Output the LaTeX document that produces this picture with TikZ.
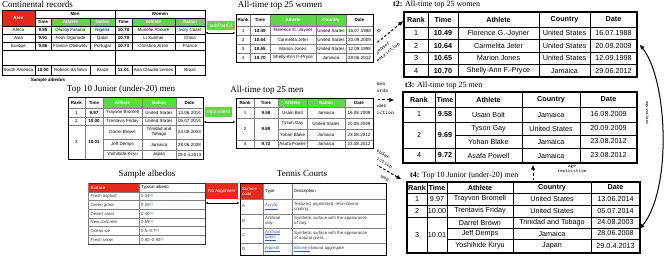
\documentclass[tikz,border=0pt]{standalone}
\usepackage{fontspec}
\setmainfont{Liberation Serif}
\setsansfont{Liberation Sans}
\usetikzlibrary{arrows.meta}
\definecolor{hred}{HTML}{E5291B}
\definecolor{hgreen}{HTML}{5DD846}
\definecolor{lnk}{HTML}{2F5FB3}
\definecolor{gl}{HTML}{808080}
\definecolor{dk}{HTML}{333333}
\newcommand\rwf[6]{%
 \node[cur] at (\ca,#1) {#2};
 \node[curb] at (\cb,#1) {#3};
 \node[cur] at (\cc,#1) {#4};
 \node[cur] at (\cd,#1) {#5};
 \node[cur] at (\ce,#1) {#6};}
\newcommand\rwt[4]{%
 \node[cur] at (\cc,#1) {#2};
 \node[cur] at (\cd,#1) {#3};
 \node[cur] at (\ce,#1) {#4};}
\newcommand\crow[8]{%
 \node[st] at (18.5,#1) {#2};
 \node[stb] at (43,#1) {#3};
 \node[st] at (70.5,#1) {#4};
 \node[st] at (102.5,#1) {#5};
 \node[stb] at (123.5,#1) {#6};
 \node[st] at (153.5,#1) {#7};
 \node[st] at (190,#1) {#8};}
\begin{document}
\begin{tikzpicture}[x=1pt,y=-1pt,
  ttl/.style={font=\fontsize{9}{10}\selectfont\rmfamily, inner sep=0},
  rttl/.style={font=\fontsize{8}{9}\selectfont\rmfamily, inner sep=0, anchor=west},
  st/.style={font=\fontsize{4.5}{5}\selectfont\sffamily, inner sep=0, align=center},
  stb/.style={font=\fontsize{4.5}{5}\selectfont\sffamily\bfseries, inner sep=0},
  ss/.style={font=\fontsize{4.3}{5}\selectfont\sffamily, inner sep=0, anchor=west, align=left, text=dk},
  rtx/.style={font=\fontsize{7.2}{8}\selectfont\sffamily, inner sep=0},
  rtb/.style={font=\fontsize{7.2}{8}\selectfont\sffamily\bfseries, inner sep=0},
  lbl/.style={font=\fontsize{5.5}{7}\selectfont\ttfamily, inner sep=0, align=center},
  tagbox/.style={inner sep=0, text=white, font=\fontsize{5}{6}\selectfont\sffamily},
  dbl/.style={{Latex[length=2.5pt,width=2pt]}-{Latex[length=2.5pt,width=2pt]}, line width=.5pt},
  dsh/.style={-{Latex[length=5pt,width=4.5pt]}, line width=1pt, dash pattern=on 2.5pt off 2pt},
  frm/.style={draw, inner sep=0},
  cur/.style={st}, curb/.style={stb}]
\useasboundingbox[fill=white] (0,0) rectangle (664,256);

% ---------- labels of the dashed arrows from the hidden source (clipped by the left panel)
\begin{scope}
\clip (377,0) rectangle (664,256);
\coordinate (A1) at (360,56.6);
\coordinate (A2) at (355,100);
\coordinate (A3) at (360,155.2);
\node[lbl, rotate=39] (w1) at (370.5,33) {women\\records};
\node[lbl, rotate=39] (g1) at (384.5,50.5) {gender\\restriction};
\node[lbl] (w2) at (378,87.5) {women\\records};
\node[lbl] (g2) at (378,109) {gender\\restriction};
\node[lbl, rotate=-30.6] (g3) at (380.2,156.2) {gender\\restriction};
\node[lbl, rotate=-30.6] (m3) at (384.8,178.5) {men};
\end{scope}

% ---------- Table 1: Continental records
\node[ttl, anchor=west] (ttlA) at (2,4.5) {Continental records};
\fill[hred] (2,10) rectangle (35,26);
\fill[hgreen] (51,18) rectangle (115,26);
\fill[hgreen] (132,18) rectangle (205,26);
\draw[line width=.4pt] (35,18) -- (205,18);
\foreach \yy in {26,34,42,50,65} \draw[line width=.4pt] (2,\yy) -- (205,\yy);
\foreach \xx in {51,90,132,175} \draw[line width=.4pt] (\xx,18) -- (\xx,50) (\xx,65) -- (\xx,75);
\draw[line width=.9pt] (35,10) -- (35,50) (35,65) -- (35,75) (115,10) -- (115,75);
\node[frm, line width=.5pt, minimum width=203pt, minimum height=65pt] (T1) at (103.5,42.5) {};
\node[stb, text=white] at (18.5,18) {Area};
\node[stb] at (75,14) {Men};
\node[stb] at (160,14) {Women};
\node[stb] at (43,22) {Time};
\node[stb, text=white] at (70.5,22) {Athlete};
\node[stb, text=white] at (102.5,22) {Nation};
\node[stb] at (123.5,22) {Time};
\node[stb, text=white] at (153.5,22) {Athlete};
\node[stb, text=white] at (190,22) {Nation};
\crow{30}{Africa}{9.85}{Olusoji Fasuba}{Nigeria}{10.78}{Murielle Ahouré}{Ivory Coast}
\crow{38}{Asia}{9.91}{Femi Ogunode}{Qatar}{10.79}{Li Xuemei}{China}
\crow{46}{Europe}{9.86}{Francis Obikwelu}{Portugal}{10.73}{Christine Arron}{France}
\crow{70}{South America}{10.00}{Robson da Silva}{Brazil}{11.01}{Ana Cláudia Lemos}{Brazil}
\node[stb] (sa) at (48,80) {Sample albedos};

% ---------- Table 2: All-time top 25 women (left)
\node[ttl] (ttlB) at (280,5) {All-time top 25 women};
\fill[hgreen] (270,14) rectangle (346,26);
\foreach \yy in {26,35,44,53} \draw[gl, line width=.4pt] (236,\yy) -- (373,\yy);
\foreach \xx in {250,270,316,346} \draw[gl, line width=.4pt] (\xx,14) -- (\xx,62);
\node[frm, line width=.9pt, minimum width=137pt, minimum height=48pt] (T2) at (304.5,38) {};
\def\ca{243}\def\cb{260}\def\cc{293}\def\cd{331}\def\ce{359.5}
\node[stb] at (\ca,20) {Rank};
\node[stb] at (\cb,20) {Time};
\node[stb, text=white] at (\cc,20) {Athlete};
\node[stb, text=white] at (\cd,20) {Country};
\node[stb] at (\ce,20) {Date};
\rwf{30.5}{1}{10.49}{Florence G.-Joyner}{United States}{16.07.1988}
\rwf{39.5}{2}{10.64}{Carmelita Jeter}{United States}{20.09.2009}
\rwf{48.5}{3}{10.65}{Marion Jones}{United States}{12.09.1998}
\rwf{57.5}{4}{10.70}{Shelly-Ann F.-Pryce}{Jamaica}{29.06.2012}

\node[tagbox, fill=hgreen, minimum width=28pt, minimum height=9pt] (L1) at (221,25.5) {subPartOf};
\draw[dbl] ([yshift=9.5pt]T1.east) -- ([yshift=5pt]T2.west);

% ---------- Table 3: Top 10 Junior (under-20) men (left)
\node[ttl] (ttlC) at (121,89) {Top 10 Junior (under-20) men};
\fill[hgreen] (103,97) rectangle (176,108);
\foreach \yy in {108,117.5,125} \draw[gl, line width=.4pt] (68,\yy) -- (203,\yy);
\foreach \yy in {139,150} \draw[gl, line width=.4pt] (103,\yy) -- (203,\yy);
\foreach \xx in {85,103,142,176} \draw[gl, line width=.4pt] (\xx,97) -- (\xx,159);
\node[frm, line width=.9pt, minimum width=135pt, minimum height=62pt] (T3) at (135.5,128) {};
\def\ca{76.5}\def\cb{94}\def\cc{122.5}\def\cd{159}\def\ce{189.5}
\node[stb] at (\ca,102.5) {Rank};
\node[stb] at (\cb,102.5) {Time};
\node[stb, text=white] at (\cc,102.5) {Athlete};
\node[stb, text=white] at (\cd,102.5) {Nation};
\node[stb] at (\ce,102.5) {Date};
\rwf{112.75}{1}{9.97}{Trayvon Bromell}{United States}{13.06.2014}
\rwf{121.25}{2}{10.00}{Trentavis Friday}{United States}{05.07.2014}
\node[st] at (\ca,142) {3};
\node[stb] at (\cb,142) {10.01};
\rwt{132}{Darrel Brown}{Trinidad and\\Tobago}{24.08.2003}
\rwt{144.5}{Jeff Demps}{Jamaica}{28.06.2008}
\rwt{154.5}{Yoshihide Kiryu}{Japan}{29.0.4.2013}

% ---------- Table 4: All-time top 25 men (left)
\node[ttl] (ttlD) at (267,90) {All-time top 25 men};
\fill[hgreen] (278,98) rectangle (345,107);
\foreach \yy in {107,118,140} \draw[gl, line width=.4pt] (236,\yy) -- (373,\yy);
\draw[gl, line width=.4pt] (278,129) -- (373,129);
\foreach \xx in {254,278,307,345} \draw[gl, line width=.4pt] (\xx,98) -- (\xx,148);
\node[frm, line width=.9pt, minimum width=137pt, minimum height=50pt] (T4) at (304.5,123) {};
\def\ca{245}\def\cb{266}\def\cc{292.5}\def\cd{326}\def\ce{359}
\node[stb] at (\ca,102.5) {Rank};
\node[stb] at (\cb,102.5) {Time};
\node[stb, text=white] at (\cc,102.5) {Athlete};
\node[stb, text=white] at (\cd,102.5) {Nation};
\node[stb] at (\ce,102.5) {Date};
\rwf{112.5}{1}{9.58}{Usain Bolt}{Jamaica}{16.08.2009}
\node[st] at (\ca,129) {2};
\node[stb] at (\cb,129) {9.69};
\rwt{123.5}{Tyson Gay}{United States}{20.09.2009}
\rwt{134.5}{Yohan Blake}{Jamaica}{23.08.2012}
\rwf{144}{4}{9.72}{Asafa Powell}{Jamaica}{23.08.2012}

\node[tagbox, fill=hgreen, minimum width=27pt, minimum height=10pt] (L2) at (218.5,112) {equivalent};
\draw[dbl] ([yshift=6pt]T3.east) -- ([yshift=1pt]T4.west);

% ---------- Table 5: Sample albedos
\node[ttl] (ttlE) at (147,174) {Sample albedos};
\fill[hred] (88,183) rectangle (139,192);
\foreach \yy in {192,200.67,209.33,218,226.67,235.33} \draw[gl, line width=.4pt] (88,\yy) -- (205,\yy);
\draw[gl, line width=.4pt] (139,183) -- (139,244);
\node[frm, draw=dk, line width=.6pt, minimum width=117pt, minimum height=61pt] (T5) at (146.5,213.5) {};
\draw[gl, line width=1.2pt] (88.6,183) -- (88.6,244);
\node[ss, text=white] at (90.5,187.5) {Surface};
\node[ss, text=black] at (141,187.5) {Typical albedo};
\node[ss] at (90.5,196.3) {Fresh asphalt};
\node[ss] at (141,196.3) {0.04\raisebox{1.2pt}{\fontsize{3}{3}\selectfont\color{lnk}[4]}};
\node[ss] at (90.5,205) {Green grass};
\node[ss] at (141,205) {0.25\raisebox{1.2pt}{\fontsize{3}{3}\selectfont\color{lnk}[5]}};
\node[ss] at (90.5,213.7) {Desert sand};
\node[ss] at (141,213.7) {0.40\raisebox{1.2pt}{\fontsize{3}{3}\selectfont\color{lnk}[6]}};
\node[ss] at (90.5,222.3) {New concrete};
\node[ss] at (141,222.3) {0.55\raisebox{1.2pt}{\fontsize{3}{3}\selectfont\color{lnk}[5]}};
\node[ss] at (90.5,231) {Ocean ice};
\node[ss] at (141,231) {0.5–0.7\raisebox{1.2pt}{\fontsize{3}{3}\selectfont\color{lnk}[5]}};
\node[ss] at (90.5,239.7) {Fresh snow};
\node[ss] at (141,239.7) {0.80–0.90\raisebox{1.2pt}{\fontsize{3}{3}\selectfont\color{lnk}[5]}};

% ---------- Table 6: Tennis Courts
\node[ttl] (ttlF) at (302,174) {Tennis Courts};
\fill[hred] (240,183) rectangle (263,199);
\foreach \yy in {199,214,228,243} \draw[gl, line width=.4pt] (240,\yy) -- (386,\yy);
\foreach \xx in {263,292} \draw[gl, line width=.4pt] (\xx,183) -- (\xx,255);
\node[frm, line width=.6pt, minimum width=146pt, minimum height=72pt] (T6) at (313,219) {};
\node[ss, text=white] at (242,191) {Surface\\code};
\node[ss, text=black] at (265,191) {Type};
\node[ss, text=black] at (294,191) {Description};
\node[ss] at (242,206.5) {A};
\node[ss] at (265,206.5) {{\color{lnk}\underline{Acrylic}}};
\node[ss] at (294,206.5) {Textured, pigmented, resin-bound\\coating};
\node[ss] at (242,221) {B};
\node[ss] at (265,221) {Artificial\\clay};
\node[ss] at (294,221) {Synthetic surface with the appearance\\of clay};
\node[ss] at (242,235.5) {C};
\node[ss] at (265,235.5) {{\color{lnk}\underline{Artificial}}\\{\color{lnk}\underline{grass}}};
\node[ss] at (294,235.5) {Synthetic surface with the appearance\\of natural grass};
\node[ss] at (242,249) {D};
\node[ss] at (265,249) {{\color{lnk}\underline{Asphalt}}};
\node[ss] at (294,249) {{\color{lnk}\underline{Bitumen}}-bound aggregate};

\node[tagbox, fill=hred, font=\fontsize{4.5}{5}\selectfont\sffamily, minimum width=32pt, minimum height=16pt] (L3) at (222,191) {No Alignment};
\draw[dbl] ([yshift=10.5pt]T5.east) -- ([yshift=16pt]T6.west);

% ---------- Right: t2
\tikzset{cur/.style={rtx}, curb/.style={rtb}}
\node[rttl] (ttl2) at (393,5) {\textbf{t2:} All-time top 25 women};
\foreach \yy in {27,39.5,52,64.5} \draw[line width=.6pt] (404,\yy) -- (637,\yy);
\foreach \xx in {428,458,539,590} \draw[line width=.6pt] (\xx,12) -- (\xx,77);
\node[frm, line width=1.3pt, minimum width=233pt, minimum height=65pt] (R2) at (520.5,44.5) {};
\def\ca{416}\def\cb{443}\def\cc{498.5}\def\cd{564.5}\def\ce{613.5}
\node[rtb] at (\ca,19.5) {Rank};
\node[rtb] at (\cb,19.5) {Time};
\node[rtb] at (\cc,19.5) {Athlete};
\node[rtb] at (\cd,19.5) {Country};
\node[rtb] at (\ce,19.5) {Date};
\rwf{33.25}{1}{10.49}{Florence G.-Joyner}{United States}{16.07.1988}
\rwf{45.75}{2}{10.64}{Carmelita Jeter}{United States}{20.09.2009}
\rwf{58.25}{3}{10.65}{Marion Jones}{United States}{12.09.1998}
\rwf{70.75}{4}{10.70}{Shelly-Ann F.-Pryce}{Jamaica}{29.06.2012}

% ---------- Right: t3
\node[rttl] (ttl3) at (405,86) {\textbf{t3:} All-time top 25 men};
\foreach \yy in {107,122,148} \draw[line width=.6pt] (403,\yy) -- (637,\yy);
\draw[line width=.6pt] (455,135) -- (637,135);
\foreach \xx in {435,455,522,580} \draw[line width=.6pt] (\xx,92) -- (\xx,163);
\node[frm, line width=1.3pt, minimum width=234pt, minimum height=71pt] (R3) at (520,127.5) {};
\def\ca{419}\def\cb{445}\def\cc{488.5}\def\cd{551}\def\ce{608.5}
\node[rtb] at (\ca,99.5) {Rank};
\node[rtb] at (\cb,99.5) {Time};
\node[rtb] at (\cc,99.5) {Athlete};
\node[rtb] at (\cd,99.5) {Country};
\node[rtb] at (\ce,99.5) {Date};
\rwf{114.5}{1}{9.58}{Usain Bolt}{Jamaica}{16.08.2009}
\node[rtx] at (\ca,135) {2};
\node[rtb] at (\cb,135) {9.69};
\rwt{128.5}{Tyson Gay}{United States}{20.09.2009}
\rwt{141.5}{Yohan Blake}{Jamaica}{23.08.2012}
\rwf{155.5}{4}{9.72}{Asafa Powell}{Jamaica}{23.08.2012}

% ---------- Right: t4
\tikzset{curb/.style={rtx}}
\node[rttl] (ttl4) at (410,176) {\textbf{t4:} Top 10 Junior (under-20) men};
\foreach \yy in {193,205,217} \draw[line width=.6pt] (407,\yy) -- (640,\yy);
\foreach \yy in {228,239} \draw[line width=.6pt] (447,\yy) -- (640,\yy);
\foreach \xx in {427,447,513,591} \draw[line width=.6pt] (\xx,182) -- (\xx,253);
\node[frm, line width=1.3pt, minimum width=233pt, minimum height=71pt] (R4) at (523.5,217.5) {};
\def\ca{417}\def\cb{437}\def\cc{480}\def\cd{552}\def\ce{615.5}
\node[rtb] at (\ca,187.5) {Rank};
\node[rtb] at (\cb,187.5) {Time};
\node[rtb] at (\cc,187.5) {Athlete};
\node[rtb] at (\cd,187.5) {Country};
\node[rtb] at (\ce,187.5) {Date};
\rwf{199}{1}{9.97}{Trayvon Bromell}{United States}{13.06.2014}
\rwf{211}{2}{10.00}{Trentavis Friday}{United States}{05.07.2014}
\node[rtx] at (\ca,235) {3};
\node[rtx] at (\cb,235) {10.01};
\rwt{222.5}{Darrel Brown}{Trinidad and Tobago}{24.08.2003}
\rwt{233.5}{Jeff Demps}{Jamaica}{28.06.2008}
\rwt{246}{Yoshihide Kiryu}{Japan}{29.0.4.2013}

% ---------- arrows on the right
\begin{scope}
\clip (377,0) rectangle (664,256);
\draw[dsh] (A1) -- ([yshift=23.5pt]R2.west);
\draw[dsh, shorten >=8pt] (A2) -- ([yshift=27.5pt]R3.west);
\draw[dsh] (A3) -- ([xshift=-5pt,yshift=2pt]R4.north west);
\end{scope}
\draw[dsh, shorten <=1pt, shorten >=1pt] ([xshift=9.5pt]R4.north) -- ([xshift=13pt]R3.south);
\node[lbl, font=\fontsize{5}{5.5}\selectfont\ttfamily] (agr) at (572,169) {age\\restriction};
\draw[line width=1pt, {Latex[length=5pt,width=4.5pt]}-{Latex[length=5pt,width=4.5pt]}] ([xshift=2pt]R2.east) .. controls (668,80) and (672,190) .. ([xshift=-1pt,yshift=-11.5pt]R4.east);
\node[font=\fontsize{4.5}{5}\selectfont\ttfamily, rotate=-90, inner sep=0] (eqv) at (647,113) {equivalent};
\end{tikzpicture}
\end{document}
